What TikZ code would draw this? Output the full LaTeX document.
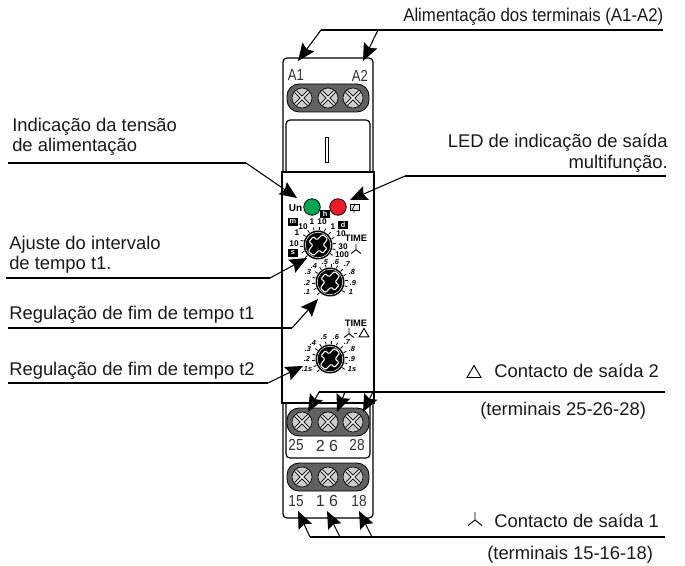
\documentclass[tikz,border=0pt]{standalone}
\usepackage{fontspec}
\setmainfont{Liberation Sans}
\usetikzlibrary{arrows.meta, positioning}
\newcommand{\narrow}[2][0.85]{\scalebox{#1}[1]{#2}}
\definecolor{ledgreencol}{RGB}{0,166,81}
\definecolor{ledredcol}{RGB}{237,28,36}
\tikzset{
x=0.75pt, y=-0.75pt,
callout/.style={draw=black, line width=0.8pt, -{Stealth[length=13pt,width=11pt,inset=2pt]}}, % line that ends on the device
rail/.style={draw=black, line width=0.9pt}, % line under a caption
case/.style={draw=black, line width=0.9pt, rounded corners=3pt},
caption/.style={font=\fontsize{13.8}{14}\selectfont, inner sep=0pt, text=black!90},
termno/.style={font=\fontsize{12}{12}\selectfont, inner sep=0pt, text=black!80},
scale mark/.style={font=\bfseries\itshape\fontsize{5.5}{6}\selectfont, inner sep=0pt},
range mark/.style={font=\bfseries\fontsize{6.2}{7}\selectfont, inner sep=0pt},
range box/.style={font=\bfseries\fontsize{5.5}{5}\selectfont, inner sep=0pt, fill=black, text=white, minimum width=7pt, minimum height=6pt},
time mark/.style={font=\bfseries\fontsize{7}{7}\selectfont, inner sep=0pt},
screw/.pic={
    \draw[black, line width=0.5pt, fill=black!20] (0,0) circle (10);
    \draw[black, line width=2.6pt] (-6.5,-6.5) -- (6.5,6.5) (-6.5,6.5) -- (6.5,-6.5);
    \draw[black!5, line width=1.3pt] (-6.5,-6.5) -- (6.5,6.5) (-6.5,6.5) -- (6.5,-6.5);
},
knob/.pic={
    \foreach \a in {135,155,...,405}
        \draw[black, line width=0.6pt] (\a:15) -- (\a:18);
    \fill[black] (0,0) circle (14.5);
    \draw[white, line width=0.4pt] (0,0) circle (12.8);
    \draw[white, line width=0.8pt, fill=black, rounded corners=1pt, rotate=50]
        (-11,-3.5) -- (-3,-4) -- (-3.5,-9) -- (3.5,-9) -- (3,-4) -- (11,-3.5) -- (11,3.5) -- (3,4) -- (3.5,9) -- (-3.5,9) -- (-3,4) -- (-11,3.5) -- cycle;
},
star/.pic={
    \draw[line width=0.7pt] (0,-7) -- (0,1) -- (-7,6.5) (0,1) -- (7,6.5);
},
delta/.pic={
    \draw[line width=0.7pt] (-7,5.5) -- (0,-6.5) -- (7,5.5) -- cycle;
},
}
\begin{document}
\begin{tikzpicture}
\useasboundingbox (0,0) rectangle (685,566);
% device
\draw[case, fill=white] (283,58) rectangle (373,518);
\draw[case, fill=white] (286,120) rectangle (370,180);
\draw[draw=black, line width=0.5pt] (325,137) rectangle (328,162);
\draw[case, fill=white] (286,395) rectangle (370,458);
\draw[draw=black, line width=1.4pt, fill=white] (282,172) rectangle (374,403);
% terminal blocks
\foreach \y in {98,422,477} {
    \draw[draw=black, line width=0.6pt, fill=black!62, rounded corners=9pt] (287,\y-14) rectangle (369,\y+14);
    \foreach \x in {302,328,353}
        \pic at (\x,\y) {screw};
}
\node[termno] (a1) at (296,75) {\narrow[0.82]{A1}};
\node[termno] (a2) at (360,76) {\narrow[0.82]{A2}};
\node[termno] (t25) at (296,445) {\narrow{25}};
\node[termno] (t26) at (327,446) {2 6};
\node[termno] (t28) at (357,445) {\narrow{28}};
\node[termno] (t15) at (296,501) {\narrow{15}};
\node[termno] (t16) at (327,501) {1 6};
\node[termno] (t18) at (359,501) {\narrow{18}};
% front panel
\node[inner sep=0pt, font=\bfseries\fontsize{7.5}{8}\selectfont] (un) at (295.5,208) {Un};
\node[circle, draw=black, fill=ledgreencol, minimum size=12.4pt, inner sep=0pt, line width=0.6pt] (ledgreen) at (312,207) {};
\node[circle, draw=black, fill=ledredcol, minimum size=12.4pt, inner sep=0pt, line width=0.6pt] (ledred) at (338,207) {};
\draw[line width=0.5pt, fill=black!10] (350,204) rectangle (359,210);
\draw[line width=0.5pt] (352,210) -- (355,204) (354,210) -- (354,213);
\pic (knobrange) at (318,245) {knob};
\pic (knobtone) at (330,282) {knob};
\pic (knobttwo) at (330,359) {knob};
% first knob marks
\node[range box] (bm) at (293,222) {m};
\node[range box] (bh) at (325,214) {h};
\node[range box] (bd) at (343,225) {d};
\node[range box] (bs) at (293,253) {s};
\foreach \t/\x/\y in {10/303/227, 1/312/222, 10/322/222, 1/333/227, 10/341/234, 30/343/247, 100/342/255, 1/297/233, 10/294/244}
    \node[range mark] at (\x,\y) {\t};
\node[time mark] (timeone) at (356,238) {TIME};
\pic[scale=0.7] at (356,249) {star};
% second knob marks
\foreach \t/\x/\y in {.1/307/292, .2/307/283, .3/308/272, .4/314/266, .5/325/262, .6/336/262, .7/347/264, .8/352/272, .9/353/283, 1/351/292}
    \node[scale mark] at (\x,\y) {\t};
% third knob marks
\foreach \t/\x/\y in {.1s/307/369, .2/307/359, .3/308/349, .4/313/343, .5/324/337, .6/336/337, .7/347/342, .8/352/349, .9/352/359, 1s/352/369}
    \node[scale mark] at (\x,\y) {\t};
\node[time mark] (timetwo) at (356,323) {TIME};
\pic[scale=0.7] at (349,333) {star};
\draw[line width=0.5pt] (354,333) -- (357,333);
\pic[scale=0.7] at (364,333) {delta};
% captions
\node[caption, anchor=base west] (supply) at (403,22) {\narrow[0.915]{Alimentação dos terminais (A1-A2)}};
\node[caption, anchor=base west] (unone) at (12,132) {Indicação da tensão};
\node[caption, anchor=base west] (untwo) at (12,152) {de alimentação};
\node[caption, anchor=base east] (ledone) at (668,148) {LED de indicação de saída};
\node[caption, anchor=base east] (ledtwo) at (668,169) {multifunção.};
\node[caption, anchor=base west] (adjone) at (9,250) {Ajuste do intervalo};
\node[caption, anchor=base west] (adjtwo) at (9,270) {de tempo t1.};
\node[caption, anchor=base west] (endone) at (9,320) {Regulação de fim de tempo t1};
\node[caption, anchor=base west] (endtwo) at (9,375) {Regulação de fim de tempo t2};
\node[caption, anchor=base west] (outtwo) at (494,378) {Contacto de saída 2};
\node[caption, anchor=base west] (termtwo) at (480,415) {(terminais 25-26-28)};
\node[caption, anchor=base west] (outone) at (494,527) {Contacto de saída 1};
\node[caption, anchor=base west] (termone) at (487,559) {(terminais 15-16-18)};
\pic at (474,372) {delta};
\pic at (475,519) {star};
% connector points
\coordinate (supplyend) at (663,30);
\coordinate (supplya) at (321,30);
\coordinate (supplyb) at (378,30);
\coordinate (tipa1) at (298,61);
\coordinate (tipa2) at (363,61);
\coordinate (unstart) at (8,163);
\coordinate (unbend) at (246,163);
\coordinate (tipun) at (297,198);
\coordinate (ledstart) at (666,176);
\coordinate (ledbend) at (405,176);
\coordinate (tipled) at (350,200);
\coordinate (adjstart) at (6,278);
\coordinate (adjbend) at (270,278);
\coordinate (tipadj) at (307,258);
\coordinate (endonestart) at (8,328);
\coordinate (endonebend) at (292,328);
\coordinate (tipendone) at (318,299);
\coordinate (endtwostart) at (8,383);
\coordinate (endtwobend) at (268,383);
\coordinate (tipendtwo) at (303,366);
\coordinate (outtwoend) at (665,392);
\coordinate (outtwoa) at (319,392);
\coordinate (outtwob) at (345,392);
\coordinate (outtwoc) at (373,392);
\coordinate (tip25) at (308,412);
\coordinate (tip26) at (337,412);
\coordinate (tip28) at (363,412);
\coordinate (outoneend) at (665,537);
\coordinate (outonea) at (310,537);
\coordinate (outoneb) at (340,537);
\coordinate (outonec) at (372,537);
\coordinate (tip15) at (298,511);
\coordinate (tip16) at (327,511);
\coordinate (tip18) at (359,511);
% connectors
\draw[rail] (supplyend) -- (supplya);
\draw[callout] (supplya) -- (tipa1);
\draw[callout] (supplyb) -- (tipa2);
\draw[rail] (unstart) -- (unbend);
\draw[callout] (unbend) -- (tipun);
\draw[rail] (ledstart) -- (ledbend);
\draw[callout] (ledbend) -- (tipled);
\draw[rail] (adjstart) -- (adjbend);
\draw[callout] (adjbend) -- (tipadj);
\draw[rail] (endonestart) -- (endonebend);
\draw[callout] (endonebend) -- (tipendone);
\draw[rail] (endtwostart) -- (endtwobend);
\draw[callout] (endtwobend) -- (tipendtwo);
\draw[rail] (outtwoend) -- (outtwoa);
\draw[callout] (outtwoa) -- (tip25);
\draw[callout] (outtwob) -- (tip26);
\draw[callout] (outtwoc) -- (tip28);
\draw[rail] (outoneend) -- (outonea);
\draw[callout] (outonea) -- (tip15);
\draw[callout] (outoneb) -- (tip16);
\draw[callout] (outonec) -- (tip18);
\end{tikzpicture}
\end{document}
